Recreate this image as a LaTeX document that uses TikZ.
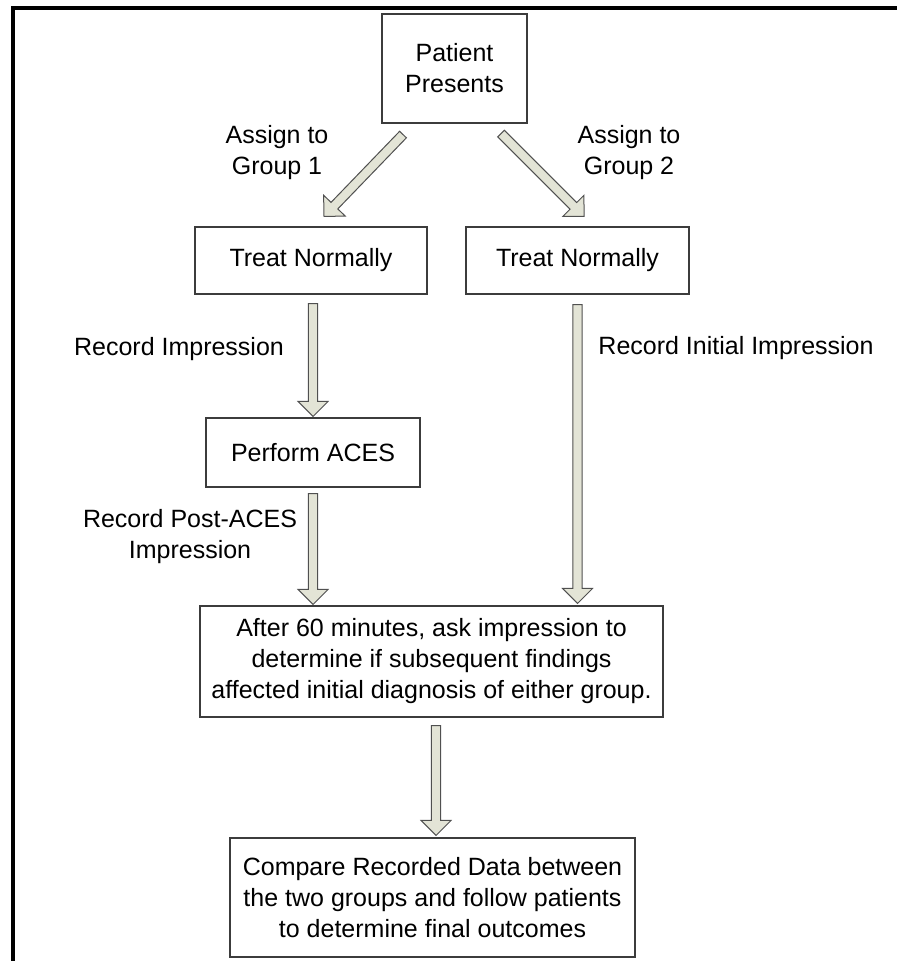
\documentclass[tikz,border=0pt]{standalone}
\usepackage{fontspec}
\setmainfont{Liberation Sans}
\usetikzlibrary{calc}
\definecolor{arrfill}{RGB}{227,228,214}
\definecolor{arredge}{RGB}{80,80,80}
\definecolor{boxedge}{RGB}{60,60,60}
\tikzset{
  box/.style={draw=boxedge, line width=1.1pt, fill=white, align=center, inner sep=2pt,
    font=\fontsize{25}{31}\selectfont},
  lbl/.style={align=center, inner sep=0pt, font=\fontsize{25}{31}\selectfont},
  blockarr/.style={fill=arrfill, draw=arredge, line width=1pt, line join=miter},
  frameline/.style={line width=4pt, draw=black}
}
\newcommand{\blockarrow}[2]{%
  \coordinate (ba-base) at ($(#2)!15pt!(#1)$);
  \filldraw[blockarr] ($(#1)!4.7pt!90:(#2)$) -- ($(ba-base)!4.7pt!90:(#2)$)
    -- ($(ba-base)!15pt!90:(#2)$) -- (#2) -- ($(ba-base)!15pt!-90:(#2)$)
    -- ($(ba-base)!4.7pt!-90:(#2)$) -- ($(#1)!4.7pt!-90:(#2)$) -- cycle;
}
\begin{document}
\begin{tikzpicture}[x=1pt, y=-1pt]
\useasboundingbox (0,0) rectangle (897,961);
% frame
\draw[frameline] (12.5,961) -- (12.5,8) -- (897,8);

% boxes
\node[box, minimum width=145, minimum height=109] (pp) at (454.5,68.5) {Patient\\Presents};
\node[box, minimum width=232, minimum height=67] (tn1) at (311,260.5) {Treat Normally};
\node[box, minimum width=223, minimum height=67] (tn2) at (577.5,260.5) {Treat Normally};
\node[box, minimum width=214, minimum height=69] (aces) at (313,452.5) {Perform ACES};
\node[box, minimum width=463, minimum height=111] (after) at (431.5,661.5)
  {After 60 minutes, ask impression to\\determine if subsequent findings\\affected initial diagnosis of either group.};
\node[box, minimum width=405, minimum height=119] (cmp) at (432.5,897.5)
  {Compare Recorded Data between\\the two groups and follow patients\\to determine final outcomes};

% labels
\node[lbl] (l1) at (277,153) {Assign to\\Group 1};
\node[lbl] (l2) at (629,153) {Assign to\\Group 2};
\node[lbl] (l3) at (179,349) {Record Impression};
\node[lbl] (l4) at (736,348) {Record Initial Impression};
\node[lbl] (l5) at (190,537) {Record Post-ACES\\Impression};

% arrow end points
\coordinate (a1s) at ($(pp.south)+(-51.5,11)$);
\coordinate (a1t) at ($(tn1.north)+(13,-10)$);
\coordinate (a2s) at ($(pp.south)+(46.5,10)$);
\coordinate (a2t) at ($(tn2.north)+(6.5,-10)$);
\coordinate (a3s) at ($(aces.north |- tn1.south)+(0,9)$);
\coordinate (a3t) at ($(aces.north)+(0,-1)$);
\coordinate (a4s) at ($(aces.south)+(0,6)$);
\coordinate (a4t) at ($(aces.south |- after.north)+(0,-1)$);
\coordinate (a5s) at ($(tn2.south)+(0,10)$);
\coordinate (a5t) at ($(tn2.south |- after.north)+(0,-2)$);
\coordinate (a6s) at ($(after.south)+(4.5,8)$);
\coordinate (a6t) at ($(cmp.north)+(3.5,-2)$);

\blockarrow{a1s}{a1t}
\blockarrow{a2s}{a2t}
\blockarrow{a3s}{a3t}
\blockarrow{a4s}{a4t}
\blockarrow{a5s}{a5t}
\blockarrow{a6s}{a6t}
\end{tikzpicture}
\end{document}
